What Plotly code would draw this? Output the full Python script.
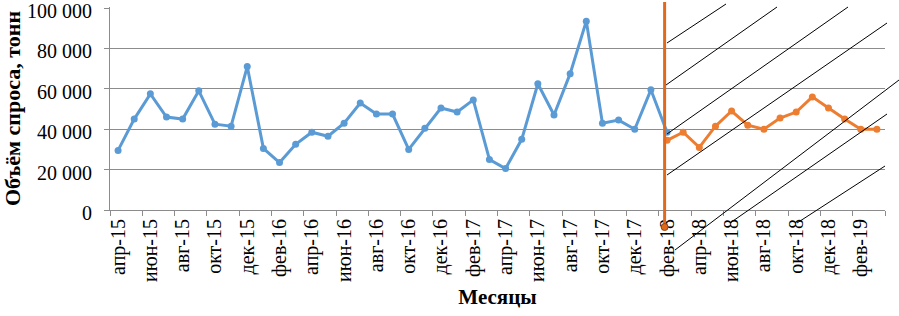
import plotly.graph_objects as go

months = ["апр-15", "май-15", "июн-15", "июл-15", "авг-15", "сен-15", "окт-15", "ноя-15", "дек-15", "янв-16",
          "фев-16", "мар-16", "апр-16", "май-16", "июн-16", "июл-16", "авг-16", "сен-16", "окт-16", "ноя-16",
          "дек-16", "янв-17", "фев-17", "мар-17", "апр-17", "май-17", "июн-17", "июл-17", "авг-17", "сен-17",
          "окт-17", "ноя-17", "дек-17", "янв-18", "фев-18", "мар-18", "апр-18", "май-18", "июн-18", "июл-18",
          "авг-18", "сен-18", "окт-18", "ноя-18", "дек-18", "янв-19", "фев-19", "мар-19"]

actual = [29500, 45000, 57500, 46000, 45000, 59000, 42500, 41500, 71000, 30500,
          23500, 32500, 38500, 36500, 43000, 53000, 47500, 47500, 30000, 40500,
          50500, 48500, 54500, 25000, 20500, 35000, 62500, 47000, 67500, 93500,
          43000, 44500, 40000, 59500, 38500]

forecast = [34500, 38500, 31000, 41500, 49000, 42000, 40000, 45500, 48500, 56000,
            50500, 45000, 40000, 40000]

forecast_start = "фев-18"
y_ticks = [0, 20000, 40000, 60000, 80000, 100000]
y_ticktext = ["0", "20 000", "40 000", "60 000", "80 000", "100 000"]

W, H = 899, 316
L, R, T, B = 110, 14, 7, 106
PW, PH = W - L - R, H - T - B
SERIF = "Liberation Serif, Times New Roman, serif"

def px(x):
    return (x - L) / PW

def py(y):
    return (H - B - y) / PH

idx = list(range(len(months)))
fs = months.index(forecast_start)

fig = go.Figure()
fig.add_trace(go.Scatter(
    x=idx[:len(actual)], y=actual, mode="lines+markers",
    line=dict(color="#5B9BD5", width=3), marker=dict(size=7, color="#5B9BD5"),
    showlegend=False))
fig.add_trace(go.Scatter(
    x=idx[fs:fs + len(forecast)], y=forecast, mode="lines+markers",
    line=dict(color="#ED7D31", width=3), marker=dict(size=7, color="#ED7D31"),
    showlegend=False))

shapes = []
hatch = [((667, 43), (726, 4)), ((666, 85), (777, 7)), ((667, 134), (848, 7)),
         ((667, 175), (887, 23)), ((675, 250), (899, 80)), ((730, 223), (887, 114)),
         ((797, 223), (885, 166))]
for (x0, y0), (x1, y1) in hatch:
    shapes.append(dict(type="line", xref="paper", yref="paper",
                       x0=px(x0), y0=py(y0), x1=px(x1), y1=py(y1),
                       line=dict(color="black", width=1)))
shapes.append(dict(type="line", xref="x", yref="paper", x0=fs - 0.15, x1=fs - 0.15,
                   y0=py(227), y1=py(2), line=dict(color="#E0691E", width=3)))
shapes.append(dict(type="circle", xref="x", yref="paper", xsizemode="pixel", ysizemode="pixel",
                   xanchor=fs - 0.15, yanchor=py(227), x0=-3.5, x1=3.5, y0=-3.5, y1=3.5,
                   line=dict(color="#8B4513", width=1), fillcolor="#E0691E"))

fig.update_layout(
    width=W, height=H, margin=dict(l=L, r=R, t=T, b=B, autoexpand=False),
    plot_bgcolor="white", paper_bgcolor="white",
    font=dict(family=SERIF, size=20, color="black"),
    shapes=shapes,
)
fig.update_xaxes(
    range=[-0.5, len(months) - 0.5], automargin=False,
    tickmode="array", tickvals=idx[::2], ticktext=months[::2], tickangle=-90,
    ticks="", showgrid=False, zeroline=False,
    showline=True, linecolor="#8c8c8c", linewidth=1,
    tickfont=dict(family=SERIF, size=20),
    minor=dict(tickmode="array", tickvals=[i - 0.5 for i in idx[::2]] + [len(months) - 0.5],
               ticks="outside", ticklen=5, tickcolor="#8c8c8c", showgrid=False),
    title=dict(text="<b>Месяцы</b>", font=dict(family=SERIF, size=21), standoff=8),
)
fig.update_yaxes(
    range=[0, 100000 + 100000 / (PH - 1)], automargin=False,
    tickmode="array", tickvals=y_ticks, ticktext=y_ticktext,
    ticks="outside", ticklen=5, tickcolor="#8c8c8c", ticklabelstandoff=8,
    ticklabeloverflow="allow", ticklabelshift=3,
    showgrid=True, gridcolor="#8c8c8c", gridwidth=1, zeroline=False,
    showline=True, linecolor="#8c8c8c", linewidth=1,
    tickfont=dict(family=SERIF, size=20),
    title=dict(text="<b>Объём спроса, тонн</b>", font=dict(family=SERIF, size=22), standoff=6),
)

fig.write_html("out.html", config={"displayModeBar": False},
               post_script="document.body.style.margin='0';document.body.style.overflow='hidden';")
